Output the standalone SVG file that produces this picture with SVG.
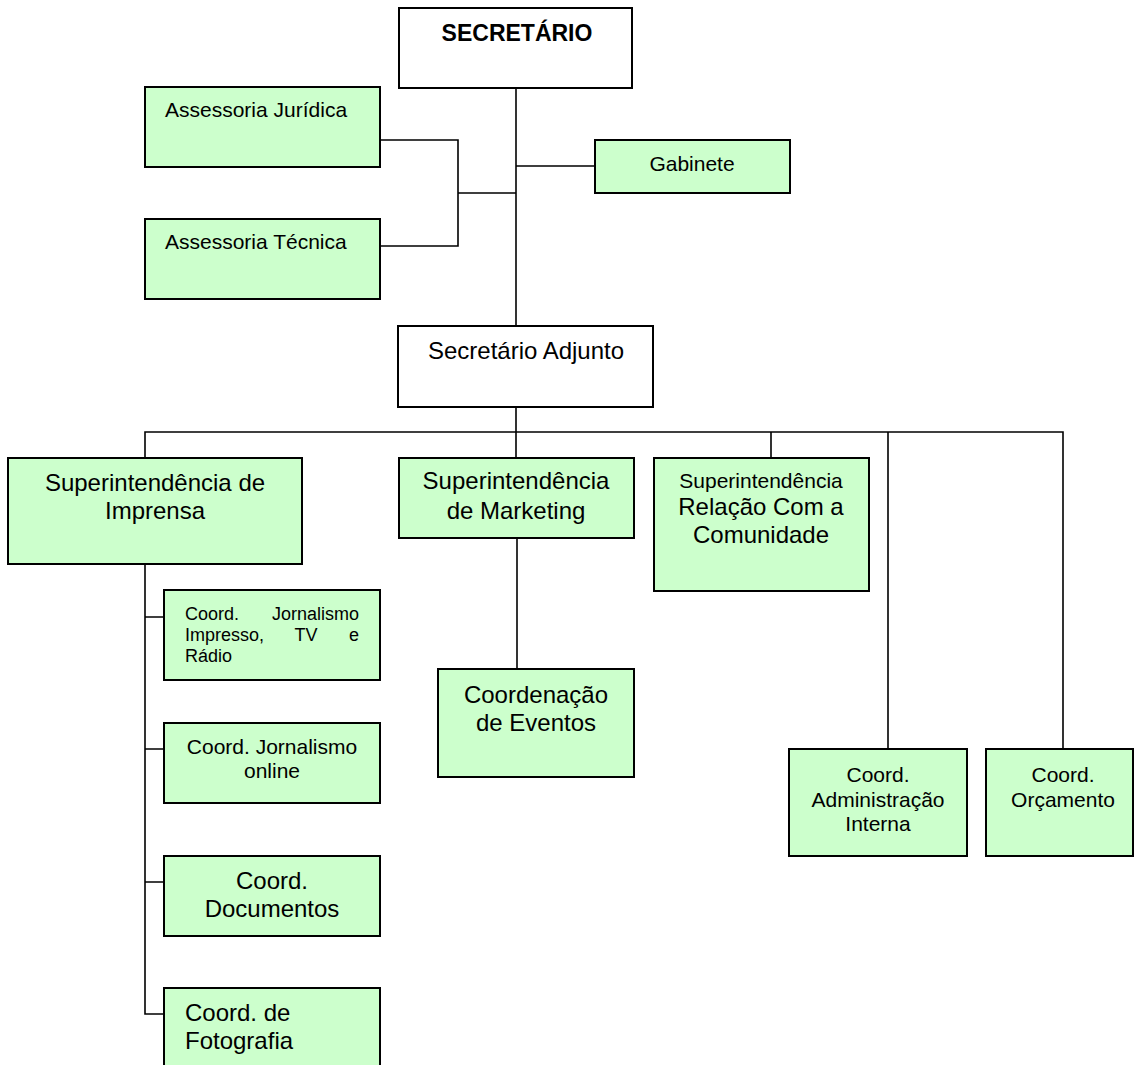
<svg xmlns="http://www.w3.org/2000/svg" width="1134" height="1065" viewBox="0 0 1134 1065">
<style>
.box{fill:#CCFFCC;stroke:#000;stroke-width:2}
.wbox{fill:#fff;stroke:#000;stroke-width:2}
.ln{fill:none;stroke:#000;stroke-width:1.6}
text{font-family:"Liberation Sans",Arial,sans-serif;fill:#000}
.t24{font-size:24px}
.t21{font-size:21px}
.t18{font-size:18px}
.c{text-anchor:middle}
</style>
<rect width="1134" height="1065" fill="#fff"/>
<g id="connectors">
<path class="ln" d="M516,88V326"/>
<path class="ln" d="M380,140H458V246H380M458,193H516M516,166H595"/>
<path class="ln" d="M516,407V458M145,458V432H1063V749M771,432V458M888,432V749"/>
<path class="ln" d="M517,538V669"/>
<path class="ln" d="M145,564V1014H164M145,617H164M145,749H164M145,882H164"/>
</g>
<g id="secretario">
<rect class="wbox" x="399" y="8" width="233" height="80"/>
<text x="517" y="41" class="c" style="font-size:23px;font-weight:bold">SECRETÁRIO</text>
</g>
<g id="assessoria-juridica">
<rect class="box" x="145" y="87" width="235" height="80"/>
<text x="165" y="117" class="t21">Assessoria Jurídica</text>
</g>
<g id="assessoria-tecnica">
<rect class="box" x="145" y="219" width="235" height="80"/>
<text x="165" y="249" class="t21">Assessoria Técnica</text>
</g>
<g id="gabinete">
<rect class="box" x="595" y="140" width="195" height="53"/>
<text x="692" y="171" class="t21 c">Gabinete</text>
</g>
<g id="secretario-adjunto">
<rect class="wbox" x="398" y="326" width="255" height="81"/>
<text x="526" y="359" class="t24 c">Secretário Adjunto</text>
</g>
<g id="sup-imprensa">
<rect class="box" x="8" y="458" width="294" height="106"/>
<text x="155" y="491" class="t24 c">Superintendência de</text>
<text x="155" y="519" class="t24 c">Imprensa</text>
</g>
<g id="sup-marketing">
<rect class="box" x="399" y="458" width="235" height="80"/>
<text x="516" y="489" class="t24 c">Superintendência</text>
<text x="516" y="519" class="t24 c">de Marketing</text>
</g>
<g id="sup-relacao">
<rect class="box" x="654" y="458" width="215" height="133"/>
<text x="761" y="488" class="t21 c">Superintendência</text>
<text x="761" y="515" class="t24 c">Relação Com a</text>
<text x="761" y="543" class="t24 c">Comunidade</text>
</g>
<g id="coord-impresso">
<rect class="box" x="164" y="590" width="216" height="90"/>
<text x="185" y="620" class="t18">Coord.</text>
<text x="359" y="620" class="t18" text-anchor="end">Jornalismo</text>
<text x="185" y="641" class="t18">Impresso,</text>
<text x="306" y="641" class="t18 c">TV</text>
<text x="359" y="641" class="t18" text-anchor="end">e</text>
<text x="185" y="662" class="t18">Rádio</text>
</g>
<g id="coord-online">
<rect class="box" x="164" y="723" width="216" height="80"/>
<text x="272" y="754" class="t21 c">Coord. Jornalismo</text>
<text x="272" y="778" class="t21 c">online</text>
</g>
<g id="coord-documentos">
<rect class="box" x="164" y="856" width="216" height="80"/>
<text x="272" y="889" class="t24 c">Coord.</text>
<text x="272" y="917" class="t24 c">Documentos</text>
</g>
<g id="coord-fotografia">
<rect class="box" x="164" y="988" width="216" height="90"/>
<text x="185" y="1021" class="t24">Coord. de</text>
<text x="185" y="1049" class="t24">Fotografia</text>
</g>
<g id="coord-eventos">
<rect class="box" x="438" y="669" width="196" height="108"/>
<text x="536" y="703" class="t24 c">Coordenação</text>
<text x="536" y="731" class="t24 c">de Eventos</text>
</g>
<g id="coord-administracao">
<rect class="box" x="789" y="749" width="178" height="107"/>
<text x="878" y="782" class="t21 c">Coord.</text>
<text x="878" y="807" class="t21 c">Administração</text>
<text x="878" y="831" class="t21 c">Interna</text>
</g>
<g id="coord-orcamento">
<rect class="box" x="986" y="749" width="147" height="107"/>
<text x="1063" y="782" class="t21 c">Coord.</text>
<text x="1063" y="807" class="t21 c">Orçamento</text>
</g>
</svg>
